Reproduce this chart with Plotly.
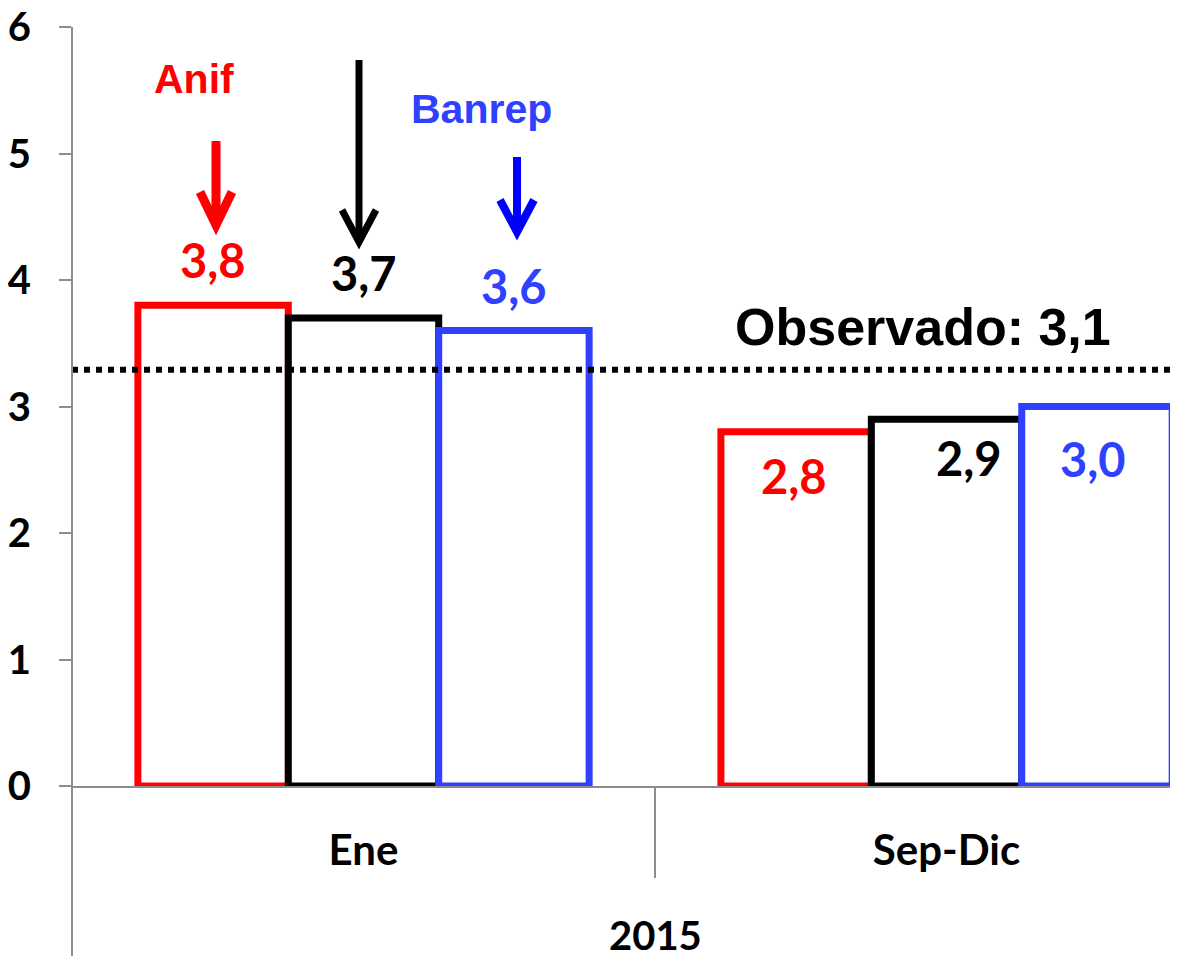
import plotly.graph_objects as go

# ---------------- data ----------------
categories = ["Ene", "Sep-Dic"]
group_label = "2015"
series_names = ["Anif", "Promedio", "Banrep"]
anif_values = [3.8, 2.8]
mid_values = [3.7, 2.9]
banrep_values = [3.6, 3.0]
observed_level = 3.29
observed_text = "Observado: 3,1"
y_ticks = [0, 1, 2, 3, 4, 5, 6]

# ---------------- styles ----------------
RED = "#FF0000"
BLACK = "#000000"
BLUE_BAR = "#3040FF"
BLUE_ARROW = "#0000FF"
GREY = "#8C8C8C"
CAL = "Lato"
ARIAL = "Liberation Sans"

OFF = 8  # page body margin
W, H = 1178 - OFF, 956 - OFF
ML, MR, MT, MB = 72 - OFF, 0, 27 - OFF, 170
XR = [-0.5, 1.397]
YR = [0, 6]
PW, PH = W - ML - MR, H - MT - MB
PLOT_L, PLOT_T = ML + OFF, MT + OFF  # page pixel coords of plot corner


def px_x(p):
    return XR[0] + (p - PLOT_L) / PW * (XR[1] - XR[0])


def px_y(p):
    return YR[1] - (p - PLOT_T) / PH * (YR[1] - YR[0])


def fmt(v):
    return f"{v:.1f}".replace(".", ",")


fig = go.Figure()
series = [anif_values, mid_values, banrep_values]
colors = [RED, BLACK, BLUE_BAR]
for name, vals, col in zip(series_names, series, colors):
    fig.add_trace(go.Bar(
        x=categories, y=vals, name=name,
        marker=dict(color="white", line=dict(color=col, width=7)),
        showlegend=False, hoverinfo="skip",
    ))

BARGAP = 0.226
bar_w = (1 - BARGAP) / 3
offsets = [-bar_w, 0, bar_w]

# value labels (style offsets in px per category/series)
label_shift = {
    0: [(0, 44), (0, 44), (0, 44)],
    1: [(-2, -45), (22, -40), (-4, -53)],
}
annotations = []
for si, (vals, col) in enumerate(zip(series, colors)):
    for ci, v in enumerate(vals):
        dx, dy = label_shift[ci][si]
        annotations.append(dict(
            x=ci + offsets[si], y=v, xref="x", yref="y",
            text=f"<b>{fmt(v)}</b>", showarrow=False,
            xshift=dx, yshift=dy + 1, xanchor="center", yanchor="middle",
            font=dict(family=CAL, size=47, color=col),
        ))

# text labels
annotations += [
    dict(x=px_x(194), y=px_y(79), xref="x", yref="y", text="<b>Anif</b>",
         showarrow=False, font=dict(family=ARIAL, size=41, color=RED)),
    dict(x=px_x(481), y=px_y(109), xref="x", yref="y", text="<b>Banrep</b>",
         showarrow=False, font=dict(family=ARIAL, size=41, color=BLUE_BAR)),
    dict(x=px_x(923), y=px_y(327), xref="x", yref="y", text=f"<b>{observed_text}</b>",
         showarrow=False, font=dict(family=ARIAL, size=52, color=BLACK)),
    dict(x=0.5, y=-(935 - (PLOT_T + PH)) / PH, xref="x", yref="paper", text=f"<b>{group_label}</b>",
         showarrow=False, yanchor="middle", font=dict(family=CAL, size=40, color=BLACK)),
]

shapes = []
# observed dotted line
shapes.append(dict(type="line", xref="paper", yref="y", x0=0, x1=1,
                   y0=observed_level, y1=observed_level,
                   line=dict(color=BLACK, width=6, dash="dot")))

# arrows (x, top, tip, half-width of head, head height, color, width)
arrows = [
    (216, 141, 225, 16, 33, RED, 9),
    (359, 60, 242, 17, 32, BLACK, 7),
    (517, 157, 232, 17, 32, BLUE_ARROW, 8),
]
for ax, top, tip, hw, hh, col, lw in arrows:
    shapes.append(dict(type="line", xref="x", yref="y",
                       x0=px_x(ax), x1=px_x(ax), y0=px_y(top), y1=px_y(tip - 3),
                       line=dict(color=col, width=lw)))
    path = (f"M {px_x(ax - hw)},{px_y(tip - hh)} L {px_x(ax)},{px_y(tip)} "
            f"L {px_x(ax + hw)},{px_y(tip - hh)}")
    shapes.append(dict(type="path", xref="x", yref="y", path=path,
                       line=dict(color=col, width=lw)))

# y-axis line extended down through the category area
shapes.append(dict(type="line", xref="paper", yref="paper", x0=0, x1=0,
                   y0=1, y1=-MB / PH, line=dict(color=GREY, width=2)))
# category divider
shapes.append(dict(type="line", xref="x", yref="paper", x0=0.5, x1=0.5,
                   y0=0, y1=-(878 - (PLOT_T + PH)) / PH, line=dict(color=GREY, width=2)))

fig.update_layout(
    width=W, height=H,
    margin=dict(l=ML, r=MR, t=MT, b=MB, pad=0),
    paper_bgcolor="white", plot_bgcolor="white",
    barmode="group", bargap=BARGAP, bargroupgap=0,
    annotations=annotations, shapes=shapes,
    xaxis=dict(range=XR, showgrid=False, zeroline=False, showline=True,
               linecolor=GREY, linewidth=2, ticks="", automargin=False,
               tickvals=categories, ticktext=[f"<b>{c}</b>" for c in categories],
               tickfont=dict(family=CAL, size=42, color=BLACK),
               ticklabelstandoff=27),
    yaxis=dict(range=YR, tickvals=y_ticks, ticktext=[f"<b>{t}</b>" for t in y_ticks],
               showgrid=False, zeroline=False, showline=False, automargin=False,
               ticks="outside", ticklen=12, tickwidth=2, tickcolor=GREY,
               tickfont=dict(family=CAL, size=40, color=BLACK),
               ticklabelstandoff=20, ticklabeloverflow="allow"),
)

fig.write_html("out.html")
